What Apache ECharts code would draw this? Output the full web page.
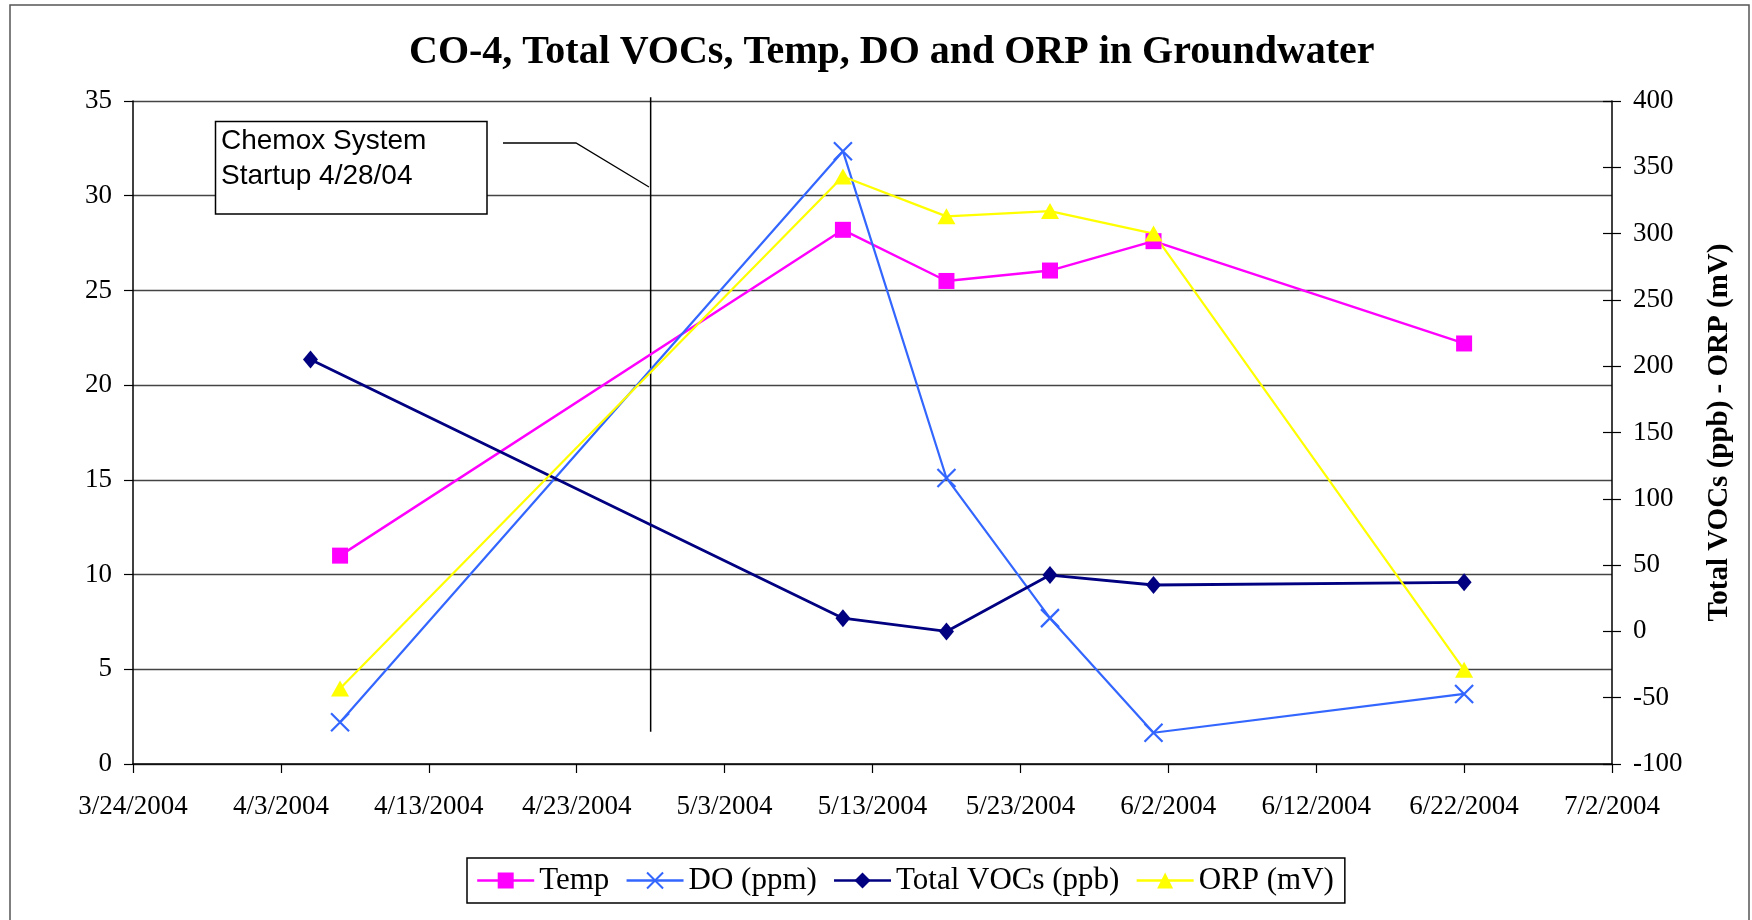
<!DOCTYPE html>
<html>
<head>
<meta charset="utf-8">
<title>CO-4 Groundwater</title>
<script src="https://cdn.jsdelivr.net/npm/echarts@6/dist/echarts.min.js"></script>
<style>
  html, body { margin: 0; padding: 0; background: #fff; }
  #chart { width: 1752px; height: 920px; }
</style>
</head>
<body>
<div id="chart"></div>
<script>
// sampling dates (VOCs first sample was two days earlier)
const sampleDates = ['2004-04-07', '2004-05-11', '2004-05-18', '2004-05-25', '2004-06-01', '2004-06-22']
const vocDates = ['2004-04-05', '2004-05-11', '2004-05-18', '2004-05-25', '2004-06-01', '2004-06-22']
// left axis
const temp = [11.0, 28.2, 25.5, 26.05, 27.6, 22.2]
const dissolvedO2 = [2.2, 32.35, 15.1, 7.7, 1.65, 3.7]
// right axis
const totalVocs = [205, 10, 0, 42.5, 35, 37]
const orp = [-43, 343, 313, 317, 300, -29]
// startup marker line (left axis span)
const startupDate = '2004-04-28'
const startupSpan = [1.7, 35.2]
const axisStart = '2004-03-24'
const leftTicks = { min: 0, max: 35, step: 5 }
const rightTicks = { min: -100, max: 400, step: 50 }
const dayTicks = { min: 0, max: 100, step: 10 }

const DAY = 86400000
const base = Date.parse(axisStart)
// x is counted in days from 3/24/2004 so the 10 day ticks start at the axis min
function toDay(s) {
  return Math.round((Date.parse(s) - base) / DAY)
}
function dayLabel(v) {
  const d = new Date(base + v * DAY)
  return (d.getUTCMonth() + 1) + '/' + d.getUTCDate() + '/' + d.getUTCFullYear()
}
function pairs(dates, vals) {
  return vals.map((v, i) => [toDay(dates[i]), v])
}

const serif = 'Liberation Serif, Times New Roman, serif'
const sans = 'Liberation Sans, Arial, sans-serif'

const chart = echarts.init(document.getElementById('chart'))

chart.setOption({
  backgroundColor: '#fff',
  animation: false,
  title: {
    text: 'CO-4, Total VOCs, Temp, DO and ORP in Groundwater',
    left: 409,
    top: 33,
    padding: 0,
    textStyle: { fontFamily: serif, fontWeight: 'bold', fontSize: 40, color: '#000' }
  },
  grid: { left: 133, right: 140, top: 101, bottom: 156, containLabel: false },
  legend: {
    data: ['Temp', 'DO (ppm)', 'Total VOCs (ppb)', 'ORP (mV)'],
    left: 467,
    top: 858,
    itemWidth: 57,
    itemHeight: 20,
    itemGap: 16,
    padding: [7, 11, 7, 9],
    borderColor: '#000',
    borderWidth: 1.5,
    lineStyle: { width: 2.4 },
    textStyle: { fontFamily: serif, fontSize: 31, color: '#000' }
  },
  xAxis: {
    type: 'value',
    min: dayTicks.min,
    max: dayTicks.max,
    interval: dayTicks.step,
    axisLine: { lineStyle: { color: '#000', width: 1.5 } },
    axisTick: { length: 9, lineStyle: { color: '#000', width: 1.2 } },
    axisLabel: {
      margin: 29,
      fontFamily: serif,
      fontSize: 27,
      color: '#000',
      formatter: dayLabel
    },
    splitLine: { show: false }
  },
  yAxis: [{
    type: 'value',
    min: leftTicks.min,
    max: leftTicks.max,
    interval: leftTicks.step,
    axisLine: { show: true, lineStyle: { color: '#000', width: 1.5 } },
    axisTick: { show: true, length: 9, lineStyle: { color: '#000', width: 1.2 } },
    axisLabel: { margin: 21, fontFamily: serif, fontSize: 27, color: '#000' },
    splitLine: { lineStyle: { color: '#444', width: 1.3 } }
  }, {
    type: 'value',
    position: 'right',
    min: rightTicks.min,
    max: rightTicks.max,
    interval: rightTicks.step,
    name: 'Total VOCs (ppb) - ORP (mV)',
    nameLocation: 'middle',
    nameRotate: 90,
    nameGap: 93,
    nameTextStyle: { fontFamily: serif, fontWeight: 'bold', fontSize: 29, color: '#000' },
    axisLine: { show: true, lineStyle: { color: '#000', width: 1.5 } },
    axisTick: { show: true, length: 9, lineStyle: { color: '#000', width: 1.2 } },
    axisLabel: { margin: 21, fontFamily: serif, fontSize: 27, color: '#000' },
    splitLine: { show: false }
  }, {
    // inner half of the cross ticks on the right axis
    type: 'value',
    position: 'right',
    min: rightTicks.min,
    max: rightTicks.max,
    interval: rightTicks.step,
    axisLine: { show: false },
    axisTick: { show: true, inside: true, length: 9, lineStyle: { color: '#000', width: 1.2 } },
    axisLabel: { show: false },
    splitLine: { show: false }
  }],
  series: [{
    // chemox startup marker, not in legend
    name: 'Chemox startup',
    type: 'line',
    yAxisIndex: 0,
    clip: false,
    silent: true,
    symbol: 'none',
    lineStyle: { color: '#000', width: 1.5 },
    data: startupSpan.map(v => [toDay(startupDate), v])
  }, {
    name: 'Temp',
    type: 'line',
    yAxisIndex: 0,
    symbol: 'rect',
    symbolSize: 16,
    lineStyle: { color: '#FF00FF', width: 2.4 },
    itemStyle: { color: '#FF00FF' },
    data: pairs(sampleDates, temp)
  }, {
    name: 'DO (ppm)',
    type: 'line',
    yAxisIndex: 0,
    symbol: 'path://M0,0L10,10M10,0L0,10',
    symbolSize: 18,
    lineStyle: { color: '#3366FF', width: 2.2 },
    itemStyle: { color: '#3366FF', borderColor: '#3366FF', borderWidth: 2.2 },
    data: pairs(sampleDates, dissolvedO2)
  }, {
    name: 'Total VOCs (ppb)',
    type: 'line',
    yAxisIndex: 1,
    symbol: 'diamond',
    symbolSize: [15, 18],
    lineStyle: { color: '#000080', width: 2.8 },
    itemStyle: { color: '#000080' },
    data: pairs(vocDates, totalVocs)
  }, {
    name: 'ORP (mV)',
    type: 'line',
    yAxisIndex: 1,
    symbol: 'triangle',
    symbolSize: [18, 16],
    lineStyle: { color: '#FFFF00', width: 2.2 },
    itemStyle: { color: '#FFFF00' },
    data: pairs(sampleDates, orp)
  }],
  graphic: [{
    // outer frame
    type: 'rect',
    shape: { x: 10, y: 5, width: 1739, height: 1000 },
    style: { fill: 'none', stroke: '#555', lineWidth: 1.5 },
    silent: true
  }, {
    // annotation box
    type: 'rect',
    shape: { x: 215.5, y: 121.5, width: 271.5, height: 92.5 },
    style: { fill: '#fff', stroke: '#000', lineWidth: 1.5 },
    z: 10
  }, {
    type: 'text',
    left: 221,
    top: 124,
    style: {
      text: 'Chemox System\nStartup 4/28/04',
      font: '28px ' + sans,
      lineHeight: 35,
      fill: '#000'
    },
    z: 11
  }, {
    type: 'polyline',
    shape: { points: [[503, 143], [576, 143], [649, 187]] },
    style: { stroke: '#000', lineWidth: 1.3, fill: 'none' },
    z: 10
  }]
})
</script>
</body>
</html>
